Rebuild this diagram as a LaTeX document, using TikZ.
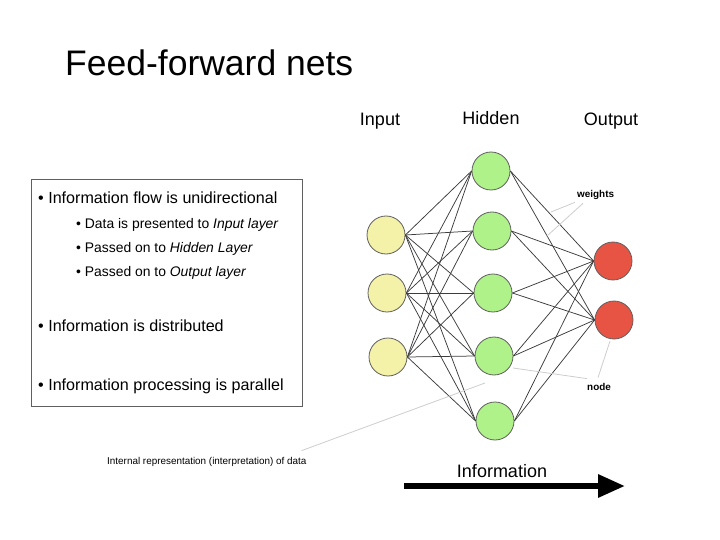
\documentclass[tikz,border=0pt]{standalone}
\usepackage{fontspec}
\setmainfont{Liberation Sans}
\usetikzlibrary{arrows.meta}
\definecolor{inputfill}{RGB}{244,241,168}
\definecolor{hiddenfill}{RGB}{176,242,138}
\definecolor{outputfill}{RGB}{232,84,68}
\definecolor{rimgray}{RGB}{95,95,95}
\definecolor{wiregray}{RGB}{60,60,60}
\definecolor{notegray}{RGB}{205,205,205}
\tikzset{
  neuron/.style={circle, draw=rimgray, line width=0.8pt, minimum size=38pt, inner sep=0pt},
  inneuron/.style={neuron, fill=inputfill},
  hidneuron/.style={neuron, fill=hiddenfill},
  outneuron/.style={neuron, fill=outputfill},
  wire/.style={draw=wiregray, line width=0.75pt},
  note/.style={draw=notegray, line width=0.8pt},
  layerlabel/.style={anchor=base, inner sep=0pt, font=\fontsize{18}{21}\selectfont},
  mainitem/.style={anchor=base west, inner sep=0pt, font=\fontsize{16.1}{19}\selectfont},
  subitem/.style={anchor=base west, inner sep=0pt, font=\fontsize{13.9}{16}\selectfont},
  smalltext/.style={anchor=base west, inner sep=0pt, font=\bfseries\fontsize{9.9}{12}\selectfont},
}
\begin{document}
\begin{tikzpicture}[x=1pt, y=-1pt]
\useasboundingbox (0,0) rectangle (720,540);

% title
\node[anchor=base west, inner sep=0pt, font=\fontsize{35.5}{42}\selectfont] (title) at (65,76) {Feed-forward nets};

% bullet box
\node[draw=rimgray, line width=0.8pt, minimum width=271pt, minimum height=227pt, anchor=north west, inner sep=0pt] (box) at (31,179) {};
\node[mainitem] (b1) at (38,204) {• Information flow is unidirectional};
\node[subitem] (s1) at (76,229) {• Data is presented to \textit{Input layer}};
\node[subitem] (s2) at (76,252) {• Passed on to \textit{Hidden Layer}};
\node[subitem] (s3) at (76,276) {• Passed on to \textit{Output layer}};
\node[mainitem] (b2) at (38,331) {• Information is distributed};
\node[mainitem] (b3) at (38,390) {• Information processing is parallel};

% layer titles
\node[layerlabel] (linput) at (380,126) {Input};
\node[layerlabel] (lhidden) at (491,125) {Hidden};
\node[layerlabel] (loutput) at (611,126) {Output};

% neurons
\node[inneuron] (i1) at (386,235) {};
\node[inneuron] (i2) at (387,293) {};
\node[inneuron] (i3) at (388,357) {};
\node[hidneuron] (h1) at (491,171) {};
\node[hidneuron] (h2) at (492,231) {};
\node[hidneuron] (h3) at (493,293) {};
\node[hidneuron] (h4) at (494,356) {};
\node[hidneuron] (h5) at (495,421) {};
\node[outneuron] (o1) at (613,261) {};
\node[outneuron] (o2) at (614,320) {};

% fully connected weights
\foreach \a in {i1,i2,i3}
  \foreach \b in {h1,h2,h3,h4,h5}
    \draw[wire] (\a.east) -- (\b.west);
\foreach \a in {h1,h2,h3,h4,h5}
  \foreach \b in {o1,o2}
    \draw[wire] (\a.east) -- (\b.west);

% annotations
\node[smalltext] (wlabel) at (577,197) {weights};
\coordinate (w1) at (551,212);
\coordinate (w2) at (547,236);
\draw[note] (wlabel.south west) ++(-2,3) -- (w1);
\draw[note] (wlabel.south west) ++(6,4) -- (w2);

\node[smalltext] (nlabel) at (587,390) {node};
\coordinate (n1) at (513,368);
\coordinate (n2) at (610,341);
\draw[note] (nlabel.north west) ++(0,-4) -- (n1);
\draw[note] (nlabel.north west) ++(11,-5) -- (n2);

\node[anchor=base west, inner sep=0pt, font=\fontsize{9.9}{12}\selectfont] (ilabel) at (107,464) {Internal representation (interpretation) of data};
\coordinate (r1) at (485,383);
\draw[note] (ilabel.north east) ++(-5,-6) -- (r1);

% information flow arrow
\node[anchor=base, inner sep=0pt, font=\fontsize{18}{21}\selectfont] (flow) at (502,477) {Information};
\coordinate (fa) at (404,486);
\coordinate (fb) at (625,486);
\draw[line width=6pt, -{Triangle[length=27pt, width=22pt]}] (fa) -- (fb);
\end{tikzpicture}
\end{document}
